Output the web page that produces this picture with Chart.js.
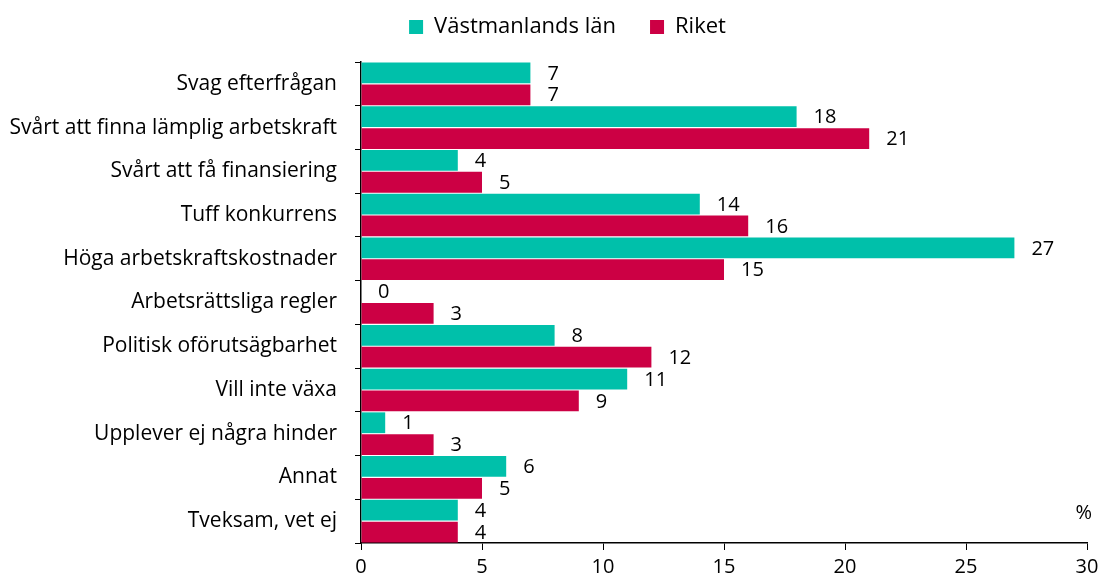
<!DOCTYPE html>
<html>
<head>
<meta charset="utf-8">
<script src="https://cdn.jsdelivr.net/npm/chart.js@4/dist/chart.umd.min.js"></script>
<style>
    html, body { margin: 0; padding: 0; background: #fff; }
    #wrap { width: 1099px; height: 583px; }
</style>
</head>
<body>
<div id="wrap"><canvas id="graficoHinder"></canvas></div>
<script>
const kategorier = [
    "Svag efterfrågan",
    "Svårt att finna lämplig arbetskraft",
    "Svårt att få finansiering",
    "Tuff konkurrens",
    "Höga arbetskraftskostnader",
    "Arbetsrättsliga regler",
    "Politisk oförutsägbarhet",
    "Vill inte växa",
    "Upplever ej några hinder",
    "Annat",
    "Tveksam, vet ej",
];
const vastmanland = [7, 18, 4, 14, 27, 0, 8, 11, 1, 6, 4];
const riket = [7, 21, 5, 16, 15, 3, 12, 9, 3, 5, 4];

const fontFamily = "'Open Sans', Lato, sans-serif";

// fast höjd för legenden, och flytta den lite
const legendLuft = {
    id: "legendLuft",
    beforeInit(chart) {
        const fit = chart.legend.fit;
        chart.legend.fit = function () {
            fit.bind(chart.legend)();
            this.height = 62;
        };
    },
    afterLayout(chart) {
        chart.legend.left += 24;
        chart.legend.right += 24;
        chart.legend.top -= 18;
        chart.legend.bottom -= 18;
    },
};

const etiketter = {
    id: "etiketter",
    afterDatasetsDraw(chart) {
        const ctx = chart.ctx;
        ctx.save();
        ctx.font = "20px " + fontFamily;
        ctx.fillStyle = "#000";
        ctx.textAlign = "left";
        ctx.textBaseline = "middle";
        chart.data.datasets.forEach((ds, i) => {
            chart.getDatasetMeta(i).data.forEach((bar, j) => {
                ctx.fillText(ds.data[j], bar.x + 17, bar.y + 1);
            });
        });
        const x = chart.scales.x;
        ctx.textAlign = "right";
        ctx.fillText("%", x.right + 5, chart.chartArea.bottom - 30);
        ctx.restore();
    },
};

const dataGrafico = {
    labels: kategorier,
    datasets: [
        {
            label: "Västmanlands län",
            backgroundColor: "#00C0AA",
            data: vastmanland,
        },
        {
            label: "Riket",
            backgroundColor: "#CC0044",
            data: riket,
        },
    ],
};

const configGrafico = {
    type: "bar",
    data: dataGrafico,
    options: {
        indexAxis: "y",
        responsive: true,
        maintainAspectRatio: false,
        animation: false,
        layout: { padding: { left: 0, right: 12, top: 0, bottom: 0 } },
        datasets: {
            bar: { categoryPercentage: 1, barPercentage: 0.95 },
        },
        plugins: {
            legend: {
                display: true,
                labels: {
                    boxWidth: 14,
                    boxHeight: 14,
                    padding: 34,
                    color: "#000",
                    font: { size: 22, family: fontFamily },
                },
            },
            tooltip: { enabled: false },
        },
        scales: {
            x: {
                min: 0,
                max: 30,
                ticks: {
                    stepSize: 5,
                    color: "#000",
                    padding: 5,
                    font: { size: 20, family: fontFamily },
                },
                grid: { drawOnChartArea: false, tickLength: 7, color: "#000" },
                border: { color: "#000", width: 1.5 },
                afterFit: scale => {
                    scale.height = 40;
                    scale.paddingRight = 0;
                },
            },
            y: {
                ticks: {
                    color: "#000",
                    padding: 18,
                    font: { size: 21, family: fontFamily },
                },
                grid: { drawOnChartArea: false, tickLength: 6, color: "#000", offset: true },
                border: { color: "#000", width: 1.5 },
                afterFit: scale => { scale.width = 361; },
            },
        },
    },
    plugins: [legendLuft, etiketter],
};

const chart1 = new Chart(document.getElementById("graficoHinder"), configGrafico);
</script>
</body>
</html>
